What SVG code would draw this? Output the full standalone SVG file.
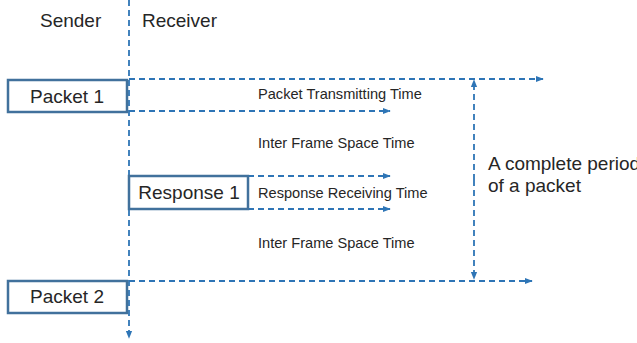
<svg xmlns="http://www.w3.org/2000/svg" width="637" height="343" viewBox="0 0 637 343">
<defs>
<style>
.t{font-family:"Liberation Sans",Arial,sans-serif;fill:#262626}
.big{font-size:19px}
.small{font-size:14.6px}
.box{fill:#fff;stroke:#41719C;stroke-width:2.5}
.d{stroke:#2E75B6;stroke-width:1.8;stroke-dasharray:6,4;fill:none}
</style>
<marker id="ah2" viewBox="0 0 10 10" refX="9" refY="5" markerWidth="8" markerHeight="8" orient="auto" markerUnits="userSpaceOnUse">
<path d="M0,1 L10,5 L0,9 z" fill="#2E75B6"/>
</marker>
</defs>
<text class="t big" x="40" y="27">Sender</text>
<text class="t big" x="142" y="27">Receiver</text>
<g id="connectors">
<line class="d" x1="129" y1="0" x2="129" y2="338" marker-end="url(#ah2)"/>
<line class="d" x1="129" y1="79" x2="543" y2="79" marker-end="url(#ah2)"/>
<line class="d" x1="129" y1="111" x2="390" y2="111" marker-end="url(#ah2)"/>
<line class="d" x1="248" y1="176" x2="390" y2="176" marker-end="url(#ah2)"/>
<line class="d" x1="248" y1="209" x2="390" y2="209" marker-end="url(#ah2)"/>
<line class="d" x1="129" y1="281" x2="532" y2="281" marker-end="url(#ah2)"/>
<line class="d" x1="474" y1="180" x2="474" y2="80" marker-end="url(#ah2)"/>
<line class="d" x1="474" y1="180" x2="474" y2="279" marker-end="url(#ah2)"/>
</g>
<g id="packet1">
<rect class="box" x="8" y="80" width="119" height="32"/>
<text class="t big" x="67" y="103" text-anchor="middle">Packet 1</text>
</g>
<g id="response1">
<rect class="box" x="129" y="176" width="119" height="33"/>
<text class="t big" x="189" y="199" text-anchor="middle">Response 1</text>
</g>
<g id="packet2">
<rect class="box" x="8" y="281" width="119" height="32"/>
<text class="t big" x="67" y="303" text-anchor="middle">Packet 2</text>
</g>
<text class="t small" x="258" y="99">Packet Transmitting Time</text>
<text class="t small" x="258" y="148">Inter Frame Space Time</text>
<text class="t small" x="258" y="198">Response Receiving Time</text>
<text class="t small" x="258" y="248">Inter Frame Space Time</text>
<text class="t" x="488" y="170" font-size="19">A complete period</text>
<text class="t" x="488" y="192" font-size="19">of a packet</text>
</svg>
